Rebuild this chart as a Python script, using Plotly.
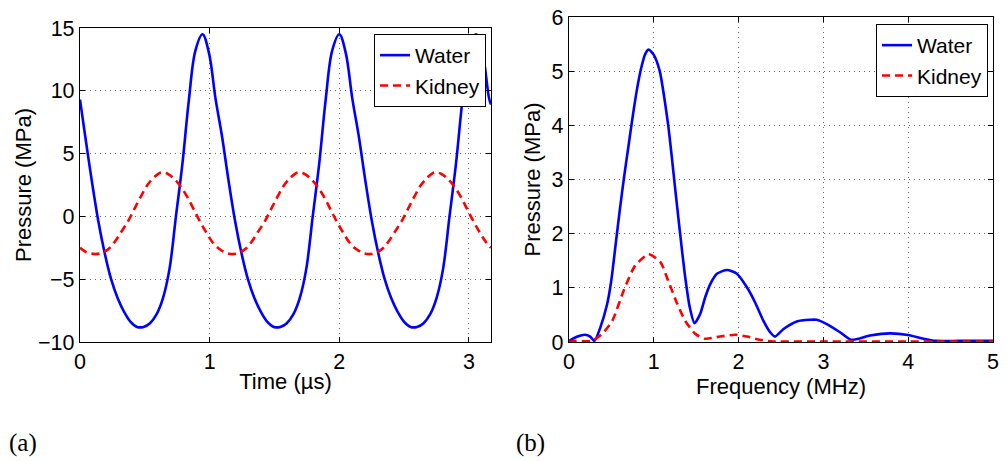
import plotly.graph_objects as go

# ---- (a) time domain ----
t_water = [0.0, 0.04, 0.09, 0.14, 0.19, 0.24, 0.29, 0.34, 0.39, 0.44, 0.49, 0.54, 0.59, 0.64, 0.69, 0.74, 0.79, 0.84, 0.89, 0.945,
           0.995, 1.045, 1.095, 1.145, 1.195, 1.245, 1.295, 1.345, 1.395, 1.445, 1.495, 1.545, 1.595, 1.645, 1.695, 1.745, 1.795, 1.845, 1.895, 1.945, 2.0,
           2.05, 2.1, 2.15, 2.2, 2.25, 2.3, 2.35, 2.4, 2.45, 2.5, 2.55, 2.6, 2.65, 2.7, 2.75, 2.8, 2.85, 2.9, 2.95, 3.0, 3.055,
           3.105, 3.155, 3.17]
p_water = [9.3, 6.4, 2.9, -0.3, -2.9, -5.0, -6.5, -7.6, -8.4, -8.8, -8.8, -8.5, -7.8, -6.5, -4.2, 0.0, 4.2, 9.3, 13.2, 14.5,
           13.0, 9.4, 6.4, 2.9, -0.3, -2.9, -5.0, -6.5, -7.6, -8.4, -8.8, -8.8, -8.5, -7.8, -6.5, -4.2, 0.0, 4.2, 9.3, 13.2, 14.5,
           13.0, 9.4, 6.4, 2.9, -0.3, -2.9, -5.0, -6.5, -7.6, -8.4, -8.8, -8.8, -8.5, -7.8, -6.5, -4.2, 0.0, 4.2, 9.3, 13.2, 14.5,
           13.0, 9.4, 8.9]

t_kidney = [0.0, 0.05, 0.12, 0.17, 0.22, 0.27, 0.32, 0.37, 0.42, 0.47, 0.52, 0.57, 0.625, 0.675, 0.725, 0.775, 0.825, 0.875, 0.925, 0.975,
            1.025, 1.075, 1.125, 1.175, 1.225, 1.275, 1.325, 1.375, 1.425, 1.475, 1.525, 1.575, 1.625, 1.68, 1.73, 1.78, 1.83, 1.88, 1.93, 1.98,
            2.03, 2.08, 2.13, 2.18, 2.23, 2.28, 2.33, 2.38, 2.43, 2.48, 2.53, 2.58, 2.63, 2.68, 2.735, 2.785, 2.835, 2.885, 2.935, 2.985,
            3.035, 3.085, 3.135, 3.17]
p_kidney = [-2.5, -2.85, -3.0, -2.9, -2.6, -2.0, -1.2, -0.4, 0.6, 1.6, 2.5, 3.1, 3.5, 3.4, 3.0, 2.4, 1.6, 0.6, -0.4, -1.3,
            -2.1, -2.6, -2.9, -3.0, -2.9, -2.6, -2.0, -1.2, -0.4, 0.6, 1.6, 2.5, 3.1, 3.5, 3.4, 3.0, 2.4, 1.6, 0.6, -0.4,
            -1.3, -2.1, -2.6, -2.9, -3.0, -2.9, -2.6, -2.0, -1.2, -0.4, 0.6, 1.6, 2.5, 3.1, 3.5, 3.4, 3.0, 2.4, 1.6, 0.6,
            -0.4, -1.3, -2.1, -2.5]

# ---- (b) frequency domain ----
f_water = [0.0, 0.1, 0.19, 0.25, 0.30, 0.37, 0.45, 0.5, 0.55, 0.6, 0.65, 0.7, 0.75, 0.8, 0.85, 0.9, 0.94, 1.0, 1.07, 1.12, 1.17,
           1.21, 1.25, 1.306, 1.365, 1.424, 1.48, 1.548, 1.607, 1.666, 1.744, 1.862, 1.98, 2.098, 2.195, 2.293, 2.372, 2.43,
           2.53, 2.686, 2.843, 2.92, 3.04, 3.196, 3.33, 3.55, 3.785, 4.0, 4.18, 4.33, 4.6, 5.0]
a_water = [0.02, 0.1, 0.135, 0.1, 0.02, 0.27, 0.7, 1.15, 1.8, 2.45, 3.05, 3.6, 4.15, 4.65, 5.05, 5.32, 5.4, 5.3, 5.0, 4.55, 4.0,
           3.45, 2.86, 2.06, 1.26, 0.64, 0.345, 0.52, 0.83, 1.07, 1.26, 1.33, 1.26, 1.01, 0.73, 0.39, 0.18, 0.1,
           0.24, 0.38, 0.41, 0.41, 0.33, 0.18, 0.04, 0.12, 0.16, 0.13, 0.06, 0.02, 0.02, 0.02]

f_kidney = [0.0, 0.077, 0.27, 0.39, 0.51, 0.645, 0.78, 0.94, 1.08, 1.17, 1.27, 1.37, 1.49, 1.607, 1.78, 1.96, 2.1, 2.25, 2.4, 3.0, 4.0, 5.0]
a_kidney = [0.0, 0.02, 0.02, 0.15, 0.39, 0.95, 1.41, 1.62, 1.47, 1.13, 0.73, 0.39, 0.15, 0.06, 0.10, 0.135, 0.10, 0.04, 0.01, 0.01, 0.01, 0.01]

x_ticks_a = [0, 1, 2, 3]
y_ticks_a = [-10, -5, 0, 5, 10, 15]
x_ticks_b = [0, 1, 2, 3, 4, 5]
y_ticks_b = [0, 1, 2, 3, 4, 5, 6]

W, H = 1008, 462
BLUE = "rgb(0,0,255)"
RED = "rgb(255,0,0)"
FONT = "Liberation Sans, Arial, sans-serif"
SERIF = "Liberation Serif, DejaVu Serif, serif"

fig = go.Figure()
fig.add_trace(go.Scatter(x=t_water, y=p_water, mode="lines", name="Water",
                         line=dict(color=BLUE, width=2.6, shape="spline", smoothing=1.0),
                         xaxis="x", yaxis="y", legend="legend"))
fig.add_trace(go.Scatter(x=t_kidney, y=p_kidney, mode="lines", name="Kidney",
                         line=dict(color=RED, width=2.6, dash="8px,5px", shape="spline", smoothing=1.0),
                         xaxis="x", yaxis="y", legend="legend"))
fig.add_trace(go.Scatter(x=f_water, y=a_water, mode="lines", name="Water",
                         line=dict(color=BLUE, width=2.6, shape="spline", smoothing=0.6),
                         xaxis="x2", yaxis="y2", legend="legend2"))
fig.add_trace(go.Scatter(x=f_kidney, y=a_kidney, mode="lines", name="Kidney",
                         line=dict(color=RED, width=2.6, dash="8px,5px", shape="spline", smoothing=0.6),
                         xaxis="x2", yaxis="y2", legend="legend2"))

axis_common = dict(showline=True, linecolor="black", linewidth=1.3, mirror="ticks",
                   ticks="inside", ticklen=5, tickcolor="black", tickwidth=1,
                   showgrid=True, gridcolor="rgba(0,0,0,0.6)", griddash="1px,4px", gridwidth=1,
                   zeroline=False, automargin=False,
                   tickfont=dict(family=FONT, size=21.5, color="black"))

def px_x(p):
    return p / W

def px_y(p):
    return 1 - p / H

title_font = dict(family=FONT, size=22, color="black")
legend_font = dict(family=FONT, size=21, color="black")

fig.update_layout(
    width=W, height=H, margin=dict(l=0, r=0, t=0, b=0, autoexpand=False),
    paper_bgcolor="white", plot_bgcolor="white",
    showlegend=True,
    xaxis=dict(domain=[px_x(80), px_x(491)], range=[0, 3.17], tickvals=x_ticks_a, anchor="y",
               title=dict(text="Time (µs)", font=title_font, standoff=0),
               **axis_common),
    yaxis=dict(domain=[px_y(342), px_y(28)], range=[-10, 15], tickvals=y_ticks_a, anchor="x",
               title=dict(text="Pressure (MPa)", font=title_font, standoff=0),
               **axis_common),
    xaxis2=dict(domain=[px_x(569), px_x(993)], range=[0, 5], tickvals=x_ticks_b, anchor="y2",
                title=dict(text="Frequency (MHz)", font=title_font, standoff=0),
                **axis_common),
    yaxis2=dict(domain=[px_y(342), px_y(17)], range=[0, 6], tickvals=y_ticks_b, anchor="x2",
                title=dict(text="Pressure (MPa)", font=title_font, standoff=4),
                **axis_common),
    legend=dict(x=px_x(486), y=px_y(34), xanchor="right", yanchor="top",
                bgcolor="white", bordercolor="black", borderwidth=1,
                font=legend_font, tracegroupgap=0, itemwidth=30),
    legend2=dict(x=px_x(988), y=px_y(24), xanchor="right", yanchor="top",
                 bgcolor="white", bordercolor="black", borderwidth=1,
                 font=legend_font, tracegroupgap=0, itemwidth=30),
    annotations=[
        dict(text="(a)", x=px_x(7), y=px_y(443), xref="paper", yref="paper", xanchor="left", yanchor="middle",
             showarrow=False, font=dict(family=SERIF, size=25, color="black")),
        dict(text="(b)", x=px_x(514), y=px_y(443), xref="paper", yref="paper", xanchor="left", yanchor="middle",
             showarrow=False, font=dict(family=SERIF, size=25, color="black")),
    ],
)

fig.write_html("out.html", config={"displayModeBar": False},
               post_script="document.body.style.margin='0px';")
